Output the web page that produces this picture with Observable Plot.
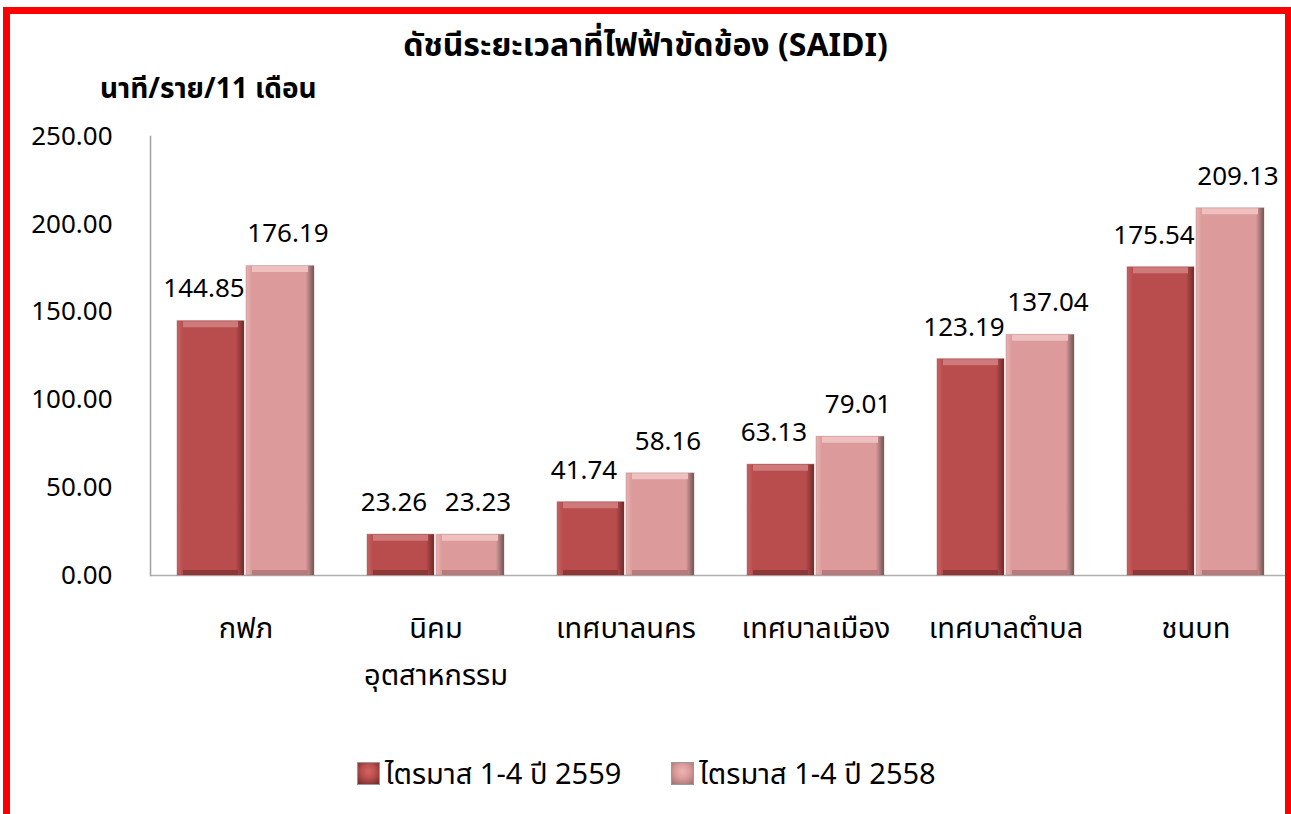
<!DOCTYPE html>
<html>
<head>
<meta charset="utf-8">
<script src="https://cdn.jsdelivr.net/npm/d3@7"></script>
<script src="https://cdn.jsdelivr.net/npm/@observablehq/plot@0.6"></script>
<style>
  html, body { margin: 0; padding: 0; background: #fff; }
  body { width: 1291px; height: 814px; overflow: hidden; position: relative;
         font-family: "Noto Sans", "Noto Sans Thai", "DejaVu Sans", sans-serif; color: #000; }
  #frame { position: absolute; left: 3px; top: 7px; width: 1275px; height: 900px;
           border: 7px solid #ff0000; border-bottom: none; z-index: 3; pointer-events: none; }
  #chart { position: absolute; left: 0; top: 0; }
  #title { position: absolute; top: 22px; left: 0; width: 1291px; text-align: center;
           font-weight: bold; font-size: 32px; z-index: 2; line-height: 44px; }
  #unit { position: absolute; top: 67px; left: 100px; font-weight: bold; font-size: 28px; z-index: 2; line-height: 40px; }
  #legend { position: absolute; top: 752px; left: 357px; font-size: 29px; display: flex; align-items: center; z-index: 2; line-height: 42px; }
  .item { display: flex; align-items: center; margin-right: 50px; }
  .sw { width: 23px; height: 23px; margin-right: 5px; box-sizing: border-box; }
</style>
</head>
<body>
<div id="frame"></div>
<div id="title">ดัชนีระยะเวลาที่ไฟฟ้าขัดข้อง (SAIDI)</div>
<div id="unit">นาที/ราย/11 เดือน</div>
<div id="chart"></div>
<div id="legend"></div>
<script>
// ---- data ----
const categories = ["กฟภ", "นิคม\nอุตสาหกรรม", "เทศบาลนคร", "เทศบาลเมือง", "เทศบาลตำบล", "ชนบท"];
const seriesNames = ["ไตรมาส 1-4 ปี 2559", "ไตรมาส 1-4 ปี 2558"];
const values2559 = [144.85, 23.26, 41.74, 63.13, 123.19, 175.54];
const values2558 = [176.19, 23.23, 58.16, 79.01, 137.04, 209.13];
const yTicks = [0, 50, 100, 150, 200, 250];
const colors = ["#b94c4c", "#dc9a9a"];

const dark = categories.map((c, i) => ({cat: c, v: values2559[i]}));
const light = categories.map((c, i) => ({cat: c, v: values2558[i]}));

const plot = Plot.plot({
  width: 1291,
  height: 814,
  marginLeft: 150,
  marginRight: 0,
  marginTop: 136,
  marginBottom: 239,
  style: {fontFamily: '"Noto Sans", "Noto Sans Thai", "DejaVu Sans", sans-serif', background: "transparent", color: "#000"},
  x: {domain: categories, paddingInner: 0.28, paddingOuter: 0.14, label: null},
  y: {domain: [0, 250], label: null},
  marks: [
    Plot.ruleY([0], {stroke: "#b0b0b0", strokeWidth: 1.5}),
    Plot.frame({anchor: "left", stroke: "#a0a0a0", strokeWidth: 1.5}),
    Plot.axisY({ticks: yTicks, tickFormat: d3.format(".2f"), tickSize: 0, tickPadding: 38, fontSize: 26, label: null}),
    Plot.axisX({tickSize: 0, tickPadding: 30, fontSize: 29, lineHeight: 1.6, label: null}),
    // bars
    Plot.barY(dark, {x: "cat", y: "v", fill: "url(#gDark)", insetRight: 70, stroke: "#8a3a3a", strokeOpacity: 0.35}),
    Plot.barY(light, {x: "cat", y: "v", fill: "url(#gLight)", insetLeft: 69, stroke: "#9a6a6a", strokeOpacity: 0.35}),
    // bevel highlights (top) and shadows (bottom)
    Plot.tickY(dark, {x: "cat", y: "v", stroke: "#cf7a7a", strokeWidth: 6, dy: 3, insetRight: 76, insetLeft: 6}),
    Plot.tickY(light, {x: "cat", y: "v", stroke: "#eec0c0", strokeWidth: 6, dy: 3, insetLeft: 75, insetRight: 6}),
    Plot.tickY(dark, {x: "cat", y: 0, stroke: "#8f3636", strokeWidth: 5, dy: -3, insetRight: 76, insetLeft: 6}),
    Plot.tickY(light, {x: "cat", y: 0, stroke: "#b87a7a", strokeWidth: 5, dy: -3, insetLeft: 75, insetRight: 6}),
    // value labels
    Plot.text(dark, {x: "cat", y: "v", text: d => d.v.toFixed(2), dy: -32, dx: -42, fontSize: 26}),
    Plot.text(light, {x: "cat", y: "v", text: d => d.v.toFixed(2), dy: -32, dx: 42, fontSize: 26})
  ]
});

// gradients for the bevelled bars
const defs = d3.select(plot).insert("defs", ":first-child");
function grad(id, edgeL, base, edgeR) {
  const g = defs.append("linearGradient").attr("id", id).attr("x1", "0").attr("x2", "1").attr("y1", "0").attr("y2", "0");
  g.append("stop").attr("offset", "0").attr("stop-color", edgeL);
  g.append("stop").attr("offset", "0.09").attr("stop-color", base);
  g.append("stop").attr("offset", "0.88").attr("stop-color", base);
  g.append("stop").attr("offset", "1").attr("stop-color", edgeR);
}
grad("gDark", "#c86464", colors[0], "#6e2c2c");
grad("gLight", "#e8b2b2", colors[1], "#6f5555");

document.getElementById("chart").appendChild(plot);

// legend
const legend = d3.select("#legend");
seriesNames.forEach((name, i) => {
  const it = legend.append("div").attr("class", "item");
  it.append("div").attr("class", "sw")
    .style("background", `radial-gradient(circle at 50% 40%, ${i ? "#e8b0b0" : "#d06060"} 10%, ${colors[i]} 45%, ${i ? "#9a7070" : "#6e2a2a"} 100%)`)
    .style("border", "1px solid #999");
  it.append("span").text(name);
});
</script>
</body>
</html>
